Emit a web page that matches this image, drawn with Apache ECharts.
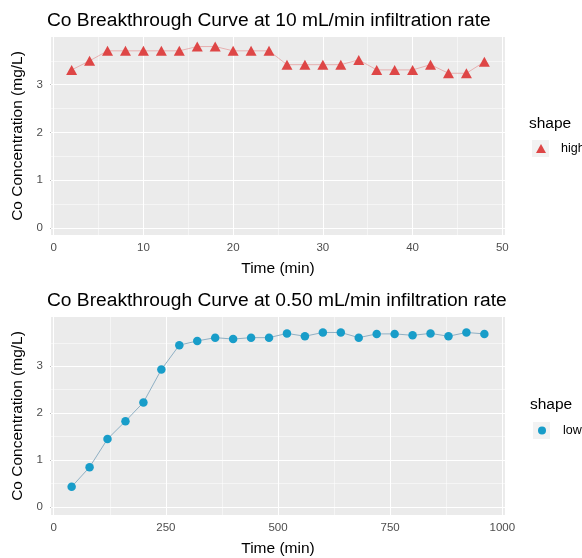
<!DOCTYPE html>
<html>
<head>
<meta charset="utf-8">
<script src="https://cdn.jsdelivr.net/npm/echarts@6/dist/echarts.min.js"></script>
<style>
html,body{margin:0;padding:0;background:#fff;}
#c{width:582px;height:558px;}
</style>
</head>
<body>
<div id="c"></div>
<script>
// ---- data ----
const highTime = [2,4,6,8,10,12,14,16,18,20,22,24,26,28,30,32,34,36,38,40,42,44,46,48];
const highConc = [3.31,3.50,3.71,3.71,3.71,3.71,3.71,3.80,3.80,3.71,3.71,3.71,3.42,3.42,3.42,3.42,3.52,3.31,3.31,3.31,3.42,3.24,3.24,3.48];
const lowTime = [40,80,120,160,200,240,280,320,360,400,440,480,520,560,600,640,680,720,760,800,840,880,920,960];
const lowConc = [0.43,0.85,1.45,1.83,2.23,2.93,3.45,3.54,3.61,3.58,3.61,3.61,3.70,3.64,3.72,3.72,3.61,3.69,3.69,3.66,3.70,3.64,3.72,3.69];
const yTicks = [0,1,2,3];
const yMinor = [0.5,1.5,2.5,3.5];
const xTicksHigh = [0,10,20,30,40,50];
const xMinorHigh = [5,15,25,35,45];
const xTicksLow = [0,250,500,750,1000];
const xMinorLow = [125,375,625,875];
const titles = ['Co Breakthrough Curve at 10 mL/min infiltration rate','Co Breakthrough Curve at 0.50 mL/min infiltration rate'];
const legendNames = ['high','low'];

const RED = '#DE4646';
const BLUE = '#189DC9';
const FONT = '"Liberation Sans", Arial, sans-serif';

function gridLines(xMaj, xMin, yMaj, yMin){
  const d = [];
  xMin.forEach(v=>d.push({xAxis:v, lineStyle:{width:0.5}}));
  yMin.forEach(v=>d.push({yAxis:v, lineStyle:{width:0.5}}));
  xMaj.forEach(v=>d.push({xAxis:v, lineStyle:{width:1.1}}));
  yMaj.forEach(v=>d.push({yAxis:v, lineStyle:{width:1.1}}));
  return {silent:true, symbol:'none', z:1, animation:false,
          label:{show:false}, lineStyle:{color:'#ffffff', type:'solid'}, data:d};
}

function xAxisOpt(gi, min, max, ticks){
  return {type:'value', gridIndex:gi, min:min, max:max,
    name:'Time (min)', nameLocation:'middle', nameGap:26,
    nameTextStyle:{fontFamily:FONT, fontSize:15.5, color:'#000'},
    axisLine:{show:false},
    axisTick:{show:true, customValues:ticks, length:3, lineStyle:{color:'#333', width:1}},
    axisLabel:{customValues:ticks, formatter:v=>String(v), fontFamily:FONT, fontSize:11.5, color:'#4D4D4D', margin:7},
    splitLine:{show:false}};
}
function yAxisOpt(gi, min, max){
  return {type:'value', gridIndex:gi, min:min, max:max,
    name:'Co Concentration (mg/L)', nameLocation:'middle', nameGap:25, nameRotate:90,
    nameTextStyle:{fontFamily:FONT, fontSize:15.5, color:'#000'},
    axisLine:{show:false},
    axisTick:{show:true, customValues:yTicks, length:3, lineStyle:{color:'#333', width:1}},
    axisLabel:{customValues:yTicks, formatter:v=>String(v), fontFamily:FONT, fontSize:11.5, color:'#4D4D4D', margin:8},
    splitLine:{show:false}};
}

const chart = echarts.init(document.getElementById('c'), null, {renderer:'canvas'});
chart.setOption({
  animation:false,
  backgroundColor:'#ffffff',
  title:[
    {text:titles[0], left:47, top:11, padding:0, textStyle:{fontFamily:FONT, fontSize:19.2, fontWeight:'normal', color:'#000'}},
    {text:titles[1], left:47, top:291, padding:0, textStyle:{fontFamily:FONT, fontSize:19.2, fontWeight:'normal', color:'#000'}}
  ],
  grid:[
    {left:51, right:77, top:37, height:198, show:true, backgroundColor:'#EBEBEB', borderWidth:0},
    {left:51, right:77, top:317, height:201, show:true, backgroundColor:'#EBEBEB', borderWidth:0}
  ],
  xAxis:[ xAxisOpt(0, -0.3, 50.3, xTicksHigh), xAxisOpt(1, -6, 1006, xTicksLow) ],
  yAxis:[ yAxisOpt(0, -0.15, 4.0), yAxisOpt(1, -0.17, 4.05) ],
  legend:[
    {data:[{name:legendNames[0], icon:'triangle'}], orient:'vertical', left:536, top:142, padding:0,
     itemWidth:10, itemHeight:9, itemGap:4, textStyle:{fontFamily:FONT, fontSize:12.5, color:'#000', padding:[0,0,0,10]}},
    {data:[{name:legendNames[1], icon:'circle'}], orient:'vertical', left:538, top:424, padding:0,
     itemWidth:8, itemHeight:8, itemGap:4, textStyle:{fontFamily:FONT, fontSize:12.5, color:'#000', padding:[0,0,0,12]}}
  ],
  graphic:[
    {type:'text', left:529, top:116, style:{text:'shape', fontFamily:FONT, fontSize:15.5, fill:'#000'}},
    {type:'text', left:530, top:397, style:{text:'shape', fontFamily:FONT, fontSize:15.5, fill:'#000'}},
    {type:'rect', left:532, top:140, shape:{width:17, height:17}, style:{fill:'#F2F2F2'}, z:-1},
    {type:'rect', left:533, top:422, shape:{width:17, height:17}, style:{fill:'#F2F2F2'}, z:-1}
  ],
  series:[
    {name:legendNames[0], type:'line', xAxisIndex:0, yAxisIndex:0, z:3,
     data:highTime.map((t,i)=>[t, highConc[i]]),
     symbol:'triangle', symbolSize:[11,10], showSymbol:true,
     itemStyle:{color:RED, opacity:1},
     lineStyle:{color:RED, width:0.8, opacity:0.45},
     markLine:gridLines(xTicksHigh, xMinorHigh, yTicks, yMinor)},
    {name:legendNames[1], type:'line', xAxisIndex:1, yAxisIndex:1, z:3,
     data:lowTime.map((t,i)=>[t, lowConc[i]]),
     symbol:'circle', symbolSize:8.5, showSymbol:true,
     itemStyle:{color:BLUE, opacity:1},
     lineStyle:{color:'#8FB0C4', width:1},
     markLine:gridLines(xTicksLow, xMinorLow, yTicks, yMinor)}
  ]
});
</script>
</body>
</html>
